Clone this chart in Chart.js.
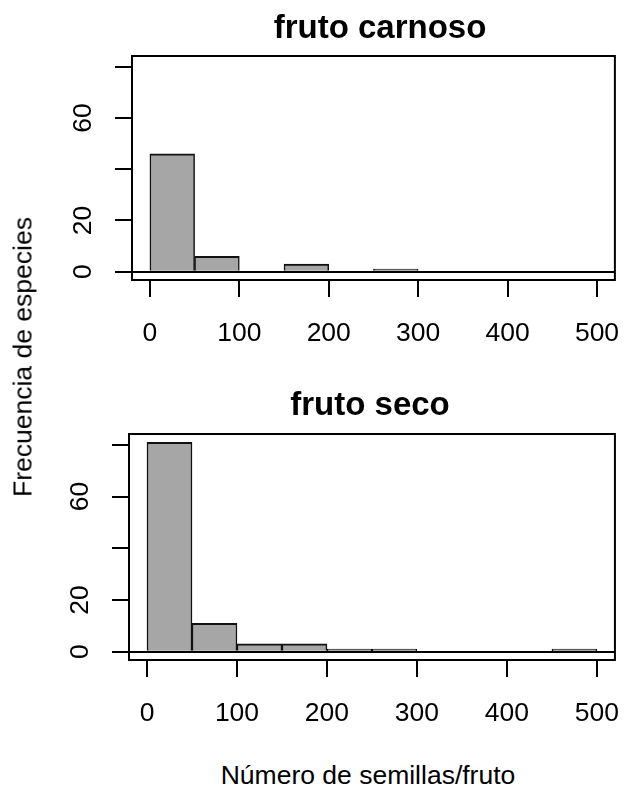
<!DOCTYPE html>
<html>
<head>
<meta charset="utf-8">
<script src="https://cdn.jsdelivr.net/npm/chart.js@4.4.0/dist/chart.umd.min.js"></script>
<style>
  body { margin: 0; background: #fff; width: 641px; height: 789px; position: relative; overflow: hidden;
         font-family: "Liberation Sans", Arial, sans-serif; color: #000; }
  .panel { position: absolute; left: 0; width: 641px; }
  .lbl { position: absolute; transform: translate(-50%, -50%); white-space: nowrap; font-size: 26.5px; }
  .ttl { font-weight: bold; font-size: 33px; }
</style>
</head>
<body>
<div class="panel" style="top:0;height:360px"><canvas id="chart1"></canvas></div>
<div class="panel" style="top:380px;height:360px"><canvas id="chart2"></canvas></div>
<div class="lbl ttl" style="left:380px;top:27px">fruto carnoso</div>
<div class="lbl ttl" style="left:370px;top:404px">fruto seco</div>
<div class="lbl" style="left:368px;top:775px">Número de semillas/fruto</div>
<div class="lbl" style="left:23px;top:357px;transform:translate(-50%,-50%) rotate(-90deg)">Frecuencia de especies</div>

<script>
// histogram bins (left edges, width 50)
const binStarts = [0, 50, 100, 150, 200, 250, 300, 350, 400, 450];
const binWidth = 50;
const frutoCarnoso = [46, 6, 0, 3, 0, 1, 0, 0, 0, 0];
const frutoSeco = [81, 11, 3, 3, 1, 1, 0, 0, 0, 1];
const xTicks = [0, 100, 200, 300, 400, 500];
const yTicks = [0, 20, 40, 60, 80];
const yShown = [0, 20, 60];

Chart.defaults.font.family = '"Liberation Sans", Arial, sans-serif';
Chart.defaults.color = '#000';

// box around the plot region, like R's box()
const boxPlugin = {
  id: 'box',
  afterDraw(chart) {
    const a = chart.chartArea, ctx = chart.ctx;
    ctx.save();
    ctx.strokeStyle = '#000';
    ctx.lineWidth = 2;
    ctx.strokeRect(a.left, a.top, a.right - a.left, a.bottom - a.top);
    ctx.restore();
  }
};

function makeHist(id, counts, left, pad) {
  const pts = binStarts.map((s, i) => ({ x: s + binWidth / 2, y: counts[i] }));
  return new Chart(document.getElementById(id), {
    type: 'bar',
    data: {
      datasets: [{
        data: pts,
        backgroundColor: '#a6a6a6',
        borderColor: '#111',
        borderWidth: { top: 2, left: 1.5, right: 1.5, bottom: 0 },
        borderSkipped: false,
        barPercentage: 1,
        categoryPercentage: 1
      }]
    },
    options: {
      responsive: true,
      maintainAspectRatio: false,
      animation: false,
      layout: { padding: pad },
      plugins: { legend: { display: false }, tooltip: { enabled: false } },
      scales: {
        x: {
          type: 'linear',
          min: -20,
          max: 520,
          offset: false,
          border: { display: false },
          grid: { offset: false, drawOnChartArea: false, tickLength: 17, tickColor: '#000', lineWidth: 2 },
          ticks: { font: { size: 26.5 }, padding: 21, maxRotation: 0, callback: v => String(v) },
          afterBuildTicks: s => { s.ticks = xTicks.map(v => ({ value: v })); },
          afterFit: s => { s.height = 80; }
        },
        y: {
          min: -3.24,
          max: 84.24,
          border: { display: false },
          grid: {
            z: 1,
            tickLength: 17,
            lineWidth: 2,
            tickColor: '#000',
            color: c => (c.tick && c.tick.value === 0 ? '#000' : 'rgba(0,0,0,0)')
          },
          ticks: {
            font: { size: 26.5 },
            padding: 17,
            crossAlign: 'center',
            autoSkip: false,
            minRotation: 90,
            maxRotation: 90,
            callback: v => (yShown.includes(v) ? String(v) : '')
          },
          afterBuildTicks: s => { s.ticks = yTicks.map(v => ({ value: v })); },
          afterFit: s => { s.width = left; }
        }
      }
    },
    plugins: [boxPlugin]
  });
}

makeHist('chart1', frutoCarnoso, 132, { left: 0, right: 24, top: 56, bottom: 0 });
makeHist('chart2', frutoSeco, 129, { left: 0, right: 26, top: 54, bottom: 0 });
</script>
</body>
</html>
